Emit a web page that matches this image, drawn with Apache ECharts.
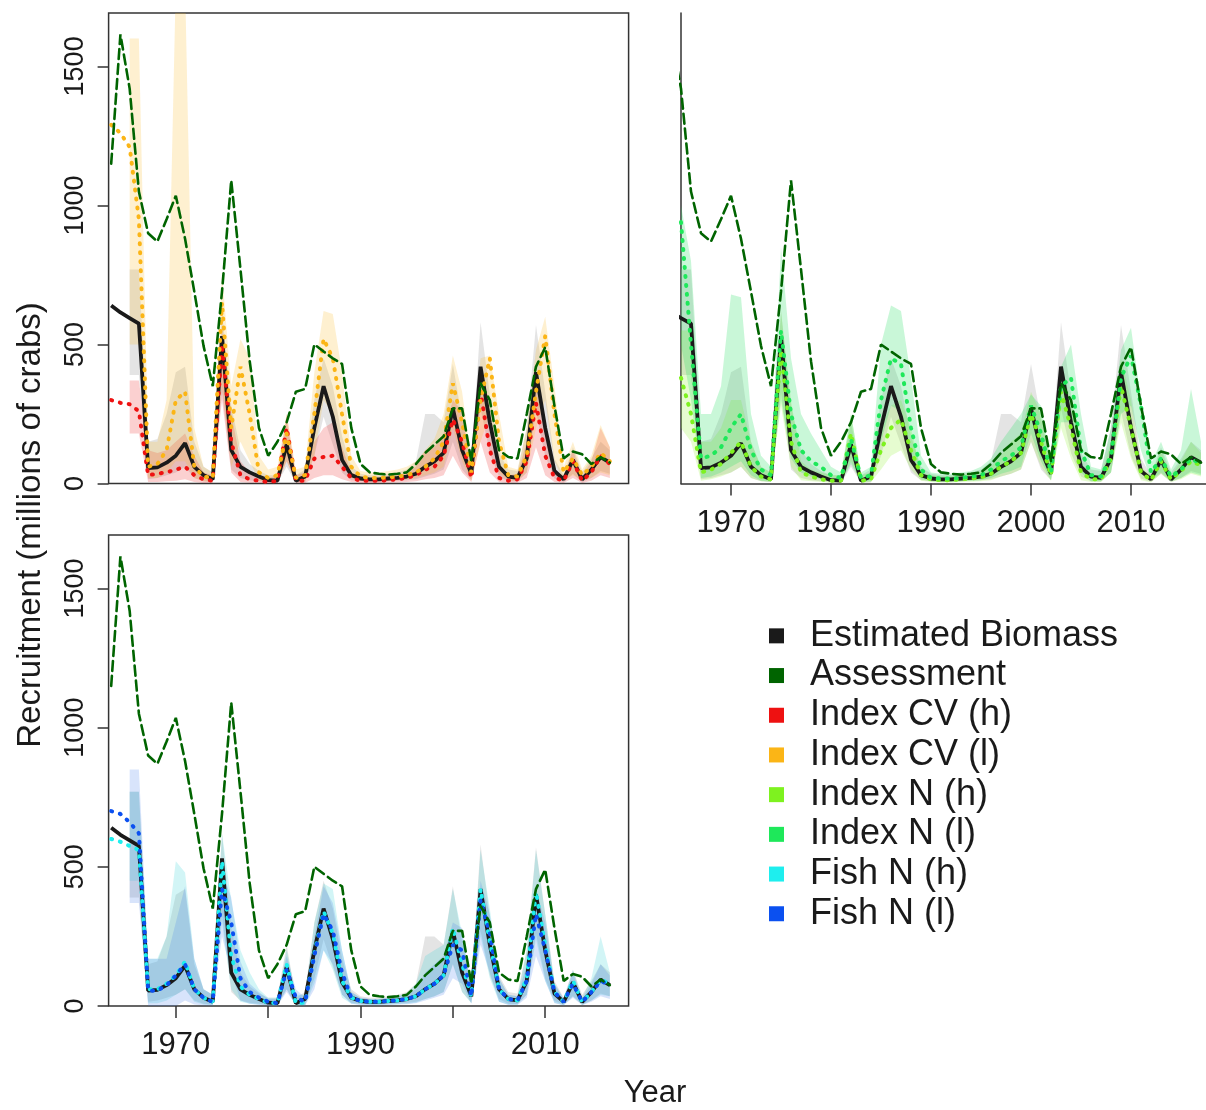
<!DOCTYPE html>
<html>
<head>
<meta charset="utf-8">
<script src="https://cdn.jsdelivr.net/npm/echarts@6.0.0/dist/echarts.min.js"></script>
<style>
  html, body { margin: 0; padding: 0; background: #ffffff; }
  #chart { width: 1206px; height: 1110px; }
</style>
</head>
<body>
<div id="chart"></div>
<script>
// ---- data (recruitment, millions of crabs) ----
const years = [1963,1964,1965,1966,1967,1968,1969,1970,1971,1972,1973,1974,1975,1976,1977,1978,1979,1980,
  1981,1982,1983,1984,1985,1986,1987,1988,1989,1990,1991,1992,1993,1994,1995,1996,1997,1998,1999,2000,
  2001,2002,2003,2004,2005,2006,2007,2008,2009,2010,2011,2012,2013,2014,2015,2016,2017];

const estimated = [640,615,595,575,55,58,75,100,145,60,30,15,530,120,60,40,25,12,10,140,10,25,200,350,240,85,30,18,15,15,18,20,25,35,60,80,110,270,120,35,420,220,60,25,20,90,400,200,45,15,85,15,50,95,75];
const assessment = [1150,1615,1420,1050,900,870,950,1035,880,690,495,350,690,1090,770,440,200,100,150,220,330,340,500,475,450,430,200,70,40,35,32,35,40,70,110,140,170,270,270,80,360,300,120,95,90,250,420,490,280,90,115,105,70,95,75];

const cvHigh = [300,290,285,260,30,35,40,50,60,30,15,10,500,150,30,15,10,5,10,200,10,10,90,95,100,60,20,10,10,10,12,15,20,30,50,60,100,230,150,20,330,120,20,10,15,80,290,100,20,10,80,10,40,100,70];
const cvLow = [1290,1260,1210,950,60,70,120,300,330,60,25,20,650,200,420,250,40,20,30,180,20,30,250,520,450,250,60,25,20,20,22,25,30,40,60,90,150,360,220,40,300,450,150,30,25,100,330,530,250,40,90,30,60,110,80];
const nHigh = [null,null,380,250,40,50,70,110,150,60,25,15,480,150,40,25,15,10,10,180,10,15,120,200,230,120,30,15,12,12,15,18,22,35,60,80,110,250,150,30,330,200,40,15,15,90,350,200,40,12,80,15,45,80,65];
const nLow = [null,null,940,500,90,100,130,200,250,120,50,30,550,250,120,80,60,30,20,160,20,30,300,450,430,200,50,20,18,18,20,25,30,50,80,100,130,280,180,40,350,380,120,30,25,100,380,460,280,40,90,25,50,90,70];
const fishHigh = [600,590,575,560,60,60,80,110,160,60,30,15,520,180,70,40,25,12,10,150,10,12,190,340,260,90,30,18,15,15,18,20,25,35,60,80,110,280,150,35,420,230,60,25,20,100,410,220,50,15,90,15,50,95,80];
const fishLow = [700,690,660,620,55,55,75,110,150,60,30,15,420,300,100,50,30,15,10,130,30,15,180,330,270,120,30,18,15,15,18,20,25,35,60,80,110,220,200,35,380,260,60,25,20,90,330,200,50,15,80,15,50,90,75];

// uncertainty intervals (lower / upper)
const estLo = [null,null,390,390,15,20,30,40,60,20,8,5,330,50,20,12,8,4,3,60,3,4,100,240,140,40,12,8,6,6,8,10,12,15,25,35,50,150,50,12,270,110,25,8,7,40,260,100,18,5,35,5,20,45,35];
const estHi = [null,null,770,770,150,160,250,400,420,150,60,40,620,280,120,70,45,30,30,220,30,50,300,450,350,170,60,35,30,30,35,40,50,80,250,250,220,430,230,80,580,320,110,50,45,200,570,330,90,30,130,40,90,150,120];
const cvHighLo = [null,null,180,180,5,5,8,10,15,5,2,2,300,40,5,3,2,1,2,80,2,2,20,30,30,15,5,2,2,2,3,4,5,8,15,20,30,100,40,5,150,40,5,2,3,20,130,30,5,2,20,2,10,30,20];
const cvHighHi = [null,null,370,370,120,110,120,150,180,100,40,30,560,250,80,40,30,20,30,250,30,40,150,200,220,130,40,25,20,20,25,30,40,60,120,130,180,300,260,60,360,220,60,30,35,150,340,200,50,25,120,25,80,200,130];
const cvLowLo = [null,null,500,500,20,20,40,80,80,20,8,5,350,60,150,80,10,5,5,80,5,8,100,300,250,100,20,10,8,8,10,12,15,20,30,40,60,200,80,10,150,250,40,10,10,40,200,300,80,10,30,10,20,40,30];
const cvLowHi = [null,null,1600,1600,150,150,300,1800,1800,200,60,40,760,350,520,450,100,50,60,250,50,60,400,620,610,400,100,45,40,40,45,50,60,80,120,160,250,460,330,80,450,460,250,60,50,200,480,600,350,60,150,50,100,210,130];
const nHighLo = [null,null,200,150,10,15,25,40,60,20,8,5,280,60,12,8,5,3,3,80,3,5,50,100,120,50,10,5,4,4,5,6,8,12,25,35,50,150,60,10,200,90,12,5,5,40,220,90,12,4,35,5,15,35,25];
const nHighHi = [null,null,550,550,150,150,200,300,300,150,60,40,620,300,80,50,40,30,30,250,30,40,200,280,300,200,40,30,25,25,30,35,45,60,100,150,180,330,250,60,420,300,60,30,30,150,450,300,60,30,120,30,80,150,110];
const nLowLo = [null,null,500,300,20,25,40,60,80,30,10,6,300,90,40,25,15,8,6,70,6,8,150,280,260,90,15,8,6,6,8,10,12,20,35,45,60,180,80,12,220,220,40,8,8,40,250,280,120,10,40,8,20,40,30];
const nLowHi = [null,null,1000,800,250,250,350,680,670,250,100,60,850,450,250,180,120,60,40,250,40,60,500,640,620,380,100,40,35,35,40,45,60,90,150,200,250,320,280,80,420,500,250,60,50,200,480,560,300,70,150,50,120,340,150];
const fishHighLo = [null,null,450,450,10,10,20,40,60,15,5,3,300,60,15,8,5,3,2,60,2,3,80,200,130,30,8,5,4,4,5,6,8,12,25,35,50,150,50,10,250,100,15,5,5,40,240,90,12,3,35,4,20,40,35];
const fishHighHi = [null,null,770,770,170,170,250,520,480,170,60,40,620,380,200,120,60,30,30,200,40,40,300,440,420,200,50,30,25,25,30,35,45,80,180,200,220,420,260,60,560,350,100,40,35,200,560,330,80,25,130,30,100,250,120];
const fishLowLo = [null,null,370,370,0,0,0,0,20,5,2,1,250,120,20,8,4,2,1,50,5,2,60,200,150,40,8,4,3,3,4,5,6,10,20,30,40,100,80,8,220,120,15,4,4,30,180,90,10,3,30,3,15,35,25];
const fishLowHi = [null,null,850,850,170,170,170,300,430,170,60,40,480,390,160,80,50,25,25,180,60,30,250,430,370,200,50,30,25,25,30,35,40,60,120,150,180,300,280,60,450,330,100,40,35,150,420,300,80,25,120,25,80,150,110];

// axis ticks
const yTicks = [0, 500, 1000, 1500];
const xTicks = [1970, 1980, 1990, 2000, 2010];
const xLabelsBottom = [1970, 1990, 2010];

// ---- styling ----
const FONT = '"Liberation Sans", Arial, sans-serif';
const C = {
  est: '#1a1a1a', assess: '#006400',
  cvh: '#ee1111', cvl: '#fbb516',
  nh: '#7ef21f', nl: '#1ee85a',
  fh: '#1eeeee', fl: '#0b50f0'
};
const BAND = {
  est: 'rgba(170,170,170,0.32)',
  cvh: 'rgba(238,40,40,0.22)', cvl: 'rgba(252,185,40,0.22)',
  nh: 'rgba(140,240,40,0.22)', nl: 'rgba(40,225,100,0.25)',
  fh: 'rgba(50,210,215,0.22)', fl: 'rgba(60,120,235,0.2)'
};

const pts = arr => years.map((y, i) => [y, arr[i] == null ? null : arr[i]]);

// Shaded interval: one polygon running along the upper bound and back along the lower bound.
function bandSeries(idx, lo, hi, color) {
  return {
    type: 'custom', xAxisIndex: idx, yAxisIndex: idx, clip: true, silent: true, z: 1,
    animation: false,
    data: [[years[0], 0]], encode: { x: 0, y: 1 },
    renderItem: (params, api) => {
      const up = [], down = [];
      years.forEach((y, i) => {
        if (lo[i] == null || hi[i] == null) return;
        up.push(api.coord([y, hi[i]]));
        down.push(api.coord([y, lo[i]]));
      });
      return { type: 'polygon', shape: { points: up.concat(down.reverse()) },
        style: { fill: color, stroke: null } };
    }
  };
}

function lineSeries(idx, name, arr, color, type, width, z) {
  return { type: 'line', name: name, xAxisIndex: idx, yAxisIndex: idx, data: pts(arr),
    symbol: 'none', showSymbol: false, color: color, clip: true, z: z, animation: false,
    lineStyle: { color: color, width: width, type: type, cap: type === 'solid' ? 'butt' : 'round' } };
}

const DOT = [1, 8];
const DASH = [10, 5];

const panels = [
  { bands: [['est', estLo, estHi], ['cvh', cvHighLo, cvHighHi], ['cvl', cvLowLo, cvLowHi]],
    lines: [['Index CV (h)', cvHigh, 'cvh'], ['Index CV (l)', cvLow, 'cvl']] },
  { bands: [['est', estLo, estHi], ['nh', nHighLo, nHighHi], ['nl', nLowLo, nLowHi]],
    lines: [['Index N (h)', nHigh, 'nh'], ['Index N (l)', nLow, 'nl']] },
  { bands: [['est', estLo, estHi], ['fh', fishHighLo, fishHighHi], ['fl', fishLowLo, fishLowHi]],
    lines: [['Fish N (h)', fishHigh, 'fh'], ['Fish N (l)', fishLow, 'fl']] }
];

const series = [];
panels.forEach((p, idx) => {
  p.bands.forEach(b => series.push(bandSeries(idx, b[1], b[2], BAND[b[0]])));
  series.push(lineSeries(idx, 'Estimated Biomass', estimated, C.est, 'solid', 3.8, 3));
  p.lines.forEach(l => series.push(lineSeries(idx, l[0], l[1], C[l[2]], DOT, 4, 4)));
  series.push(lineSeries(idx, 'Assessment', assessment, C.assess, DASH, 2.6, 5));
});

const axisColor = '#333333';
const grids = [
  { left: 108.6, top: 13, width: 520, height: 470.5, show: true, borderColor: axisColor, borderWidth: 1.5 },
  { left: 681, top: 13, width: 525, height: 470.5, show: false },
  { left: 108.6, top: 535, width: 520, height: 471, show: true, borderColor: axisColor, borderWidth: 1.5 }
].map(g => Object.assign({ outerBoundsMode: 'none', containLabel: false }, g));

function xAxis(idx, min, max, ticks, labels, showLine) {
  return {
    type: 'value', gridIndex: idx, min: min, max: max,
    splitLine: { show: false },
    axisLine: { show: showLine, onZero: false, lineStyle: { color: axisColor, width: 1.5 } },
    axisTick: { show: ticks.length > 0, customValues: ticks, length: 12, lineStyle: { color: axisColor, width: 1.5 } },
    axisLabel: { show: labels.length > 0, customValues: labels, margin: 24, color: '#1a1a1a',
      fontFamily: FONT, fontSize: 31, formatter: v => String(v) }
  };
}
function yAxis(idx, showLabels, showLine) {
  return {
    type: 'value', gridIndex: idx, min: 0, max: 1692,
    splitLine: { show: false },
    axisLine: { show: showLine, lineStyle: { color: axisColor, width: 1.5 } },
    axisTick: { show: showLabels, customValues: yTicks, length: 11, lineStyle: { color: axisColor, width: 1.5 } },
    axisLabel: { show: showLabels, customValues: yTicks, rotate: 90, margin: 20, color: '#1a1a1a',
      fontFamily: FONT, fontSize: 27, formatter: v => String(v) }
  };
}

const legendNames = ['Estimated Biomass', 'Assessment', 'Index CV (h)', 'Index CV (l)',
  'Index N (h)', 'Index N (l)', 'Fish N (h)', 'Fish N (l)'];

const chart = echarts.init(document.getElementById('chart'), null, { renderer: 'canvas' });
chart.setOption({
  backgroundColor: '#ffffff',
  animation: false,
  grid: grids,
  xAxis: [
    xAxis(0, 1962.72, 2019.03, [], [], false),
    xAxis(1, 1965, 2017.5, xTicks, xTicks, true),
    xAxis(2, 1962.72, 2019.03, xTicks, xLabelsBottom, false)
  ],
  yAxis: [yAxis(0, true, false), yAxis(1, false, true), yAxis(2, true, false)],
  legend: {
    data: legendNames.map(n => ({ name: n, icon: 'rect' })),
    orient: 'vertical', left: 764, top: 611,
    itemWidth: 15, itemHeight: 15, itemGap: 0,
    selectedMode: false,
    itemStyle: { borderWidth: 0 },
    textStyle: { fontFamily: FONT, fontSize: 36, color: '#1a1a1a', lineHeight: 39.7, padding: [0, 0, 0, 21] }
  },
  graphic: [
    { type: 'text', x: 31, y: 525, rotation: Math.PI / 2,
      style: { text: 'Recruitment (millions of crabs)', font: '33px "Liberation Sans", Arial, sans-serif',
        fill: '#1a1a1a', textAlign: 'center', textVerticalAlign: 'middle' } },
    { type: 'text', x: 655, y: 1093,
      style: { text: 'Year', font: '31px "Liberation Sans", Arial, sans-serif',
        fill: '#1a1a1a', textAlign: 'center', textVerticalAlign: 'middle' } }
  ],
  series: series
});
</script>
</body>
</html>
